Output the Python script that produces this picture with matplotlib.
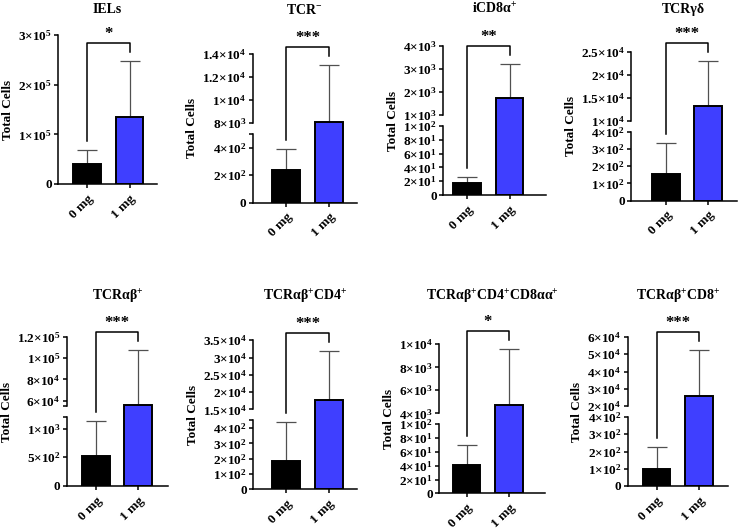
import numpy as np
import matplotlib
matplotlib.use('Agg')
import matplotlib.pyplot as plt
import matplotlib.transforms as mtransforms

plt.rcParams['font.family'] = ['Liberation Serif', 'DejaVu Serif']
plt.rcParams['font.weight'] = 'bold'
plt.rcParams['mathtext.fontset'] = 'custom'
plt.rcParams['mathtext.rm'] = 'Liberation Serif:bold'
plt.rcParams['mathtext.it'] = 'Liberation Serif:bold:italic'
plt.rcParams['mathtext.bf'] = 'Liberation Serif:bold'
plt.rcParams['mathtext.default'] = 'bf'

# ---- data ----
titles = ['IELs', 'TCR$^{-}$', 'iCD8α$^{+}$', 'TCRγδ',
          'TCRαβ$^{+}$', 'TCRαβ$^{+}$CD4$^{+}$',
          'TCRαβ$^{+}$CD4$^{+}$CD8αα$^{+}$', 'TCRαβ$^{+}$CD8$^{+}$']
groups = ['0 mg', '1 mg']
mean_0mg = [4.0e4, 2.4e2, 1.8e1, 1.55e2, 5.3e2, 1.87e2, 4.05e1, 9.6e1]
sd_0mg = [2.76e4, 1.5e2, 8.0, 1.79e2, 6.05e2, 2.53e2, 3.0e1, 1.31e2]
mean_1mg = [1.35e5, 8.1e3, 1.76e3, 1.31e4, 5.6e4, 1.78e4, 4.68e3, 2.57e4]
sd_1mg = [1.12e5, 4.9e3, 1.44e3, 9.8e3, 5.2e4, 1.4e4, 4.87e3, 2.7e4]
stars = ['*', '***', '**', '***', '***', '***', '*', '***']

# broken y axes: (top of lower part, bottom of upper part, top of upper part)
breaks = [None, (5e2, 8e3, 1.4e4), (1e2, 1e3, 4e3), (4e2, 1e4, 2.5e4),
          (1.2e3, 5.5e4, 1.2e5), (4.5e2, 1.5e4, 3.5e4), (1e2, 4e3, 1e4),
          (4e2, 2e4, 6e4)]
ymax_plain = 3e5
lower_ticks = [[0, 1e5, 2e5, 3e5], [0, 2e2, 4e2], [0, 2e1, 4e1, 6e1, 8e1, 1e2],
               [0, 1e2, 2e2, 3e2, 4e2], [0, 5e2, 1e3], [0, 1e2, 2e2, 3e2, 4e2],
               [0, 2e1, 4e1, 6e1, 8e1, 1e2], [0, 1e2, 2e2, 3e2, 4e2]]
upper_ticks = [[], [8e3, 1e4, 1.2e4, 1.4e4], [1e3, 2e3, 3e3, 4e3],
               [1e4, 1.5e4, 2e4, 2.5e4], [6e4, 8e4, 1e5, 1.2e5],
               [1.5e4, 2e4, 2.5e4, 3e4, 3.5e4], [4e3, 6e3, 8e3, 1e4],
               [2e4, 3e4, 4e4, 5e4, 6e4]]

# ---- layout (pixels on a 740x530 canvas) ----
W, H = 740, 530
# spine x, right end of x axis, y of zero, centre of first bar
frames = [(58.3, 157, 184, 87), (252.7, 356.7, 202.7, 286.3),
          (443.3, 545.7, 195, 467), (631, 736.7, 200.7, 665.8),
          (66.7, 168.3, 486, 95.8), (253.3, 356.7, 489.3, 286.2),
          (439, 545, 493.3, 466.5), (627.7, 727.7, 486, 656.5)]
title_y = [9.5, 9.5, 9.5, 9.5, 297, 297, 297, 297]
spacing = 42.5
h_lo, h_gap, h_hi = 69, 11, 69
LW = 1.1
blue = '#3f3fff'


def make_scale(brk):
    if brk is None:
        k = (h_lo + h_gap + h_hi) / ymax_plain
        return (lambda v: np.asarray(v, float) * k,
                lambda p: np.asarray(p, float) / k)
    lo, hb, ht = brk

    def fwd(v):
        v = np.asarray(v, float)
        return np.where(v <= lo, v / lo * h_lo,
                        np.where(v < hb, h_lo + (v - lo) / (hb - lo) * h_gap,
                                 h_lo + h_gap + (v - hb) / (ht - hb) * h_hi))

    def inv(p):
        p = np.asarray(p, float)
        return np.where(p <= h_lo, p / h_lo * lo,
                        np.where(p < h_lo + h_gap, lo + (p - h_lo) / h_gap * (hb - lo),
                                 hb + (p - h_lo - h_gap) / h_hi * (ht - hb)))
    return fwd, inv


def fmt(v):
    if v == 0:
        return '0'
    e = int(np.floor(np.log10(v) + 1e-9))
    m = v / 10 ** e
    return f'{m:g}×10$^{{{e}}}$'


fig = plt.figure(figsize=(W / 100, H / 100), dpi=100)

for i in range(8):
    x0, x1, zy, c0 = frames[i]
    total = h_lo + h_gap + h_hi
    ax = fig.add_axes([x0 / W, (H - zy) / H, (x1 - x0) / W, total / H])
    fwd, inv = make_scale(breaks[i])
    ax.set_yscale('function', functions=(fwd, inv))
    top = ymax_plain if breaks[i] is None else breaks[i][2]
    ax.set_ylim(0, top)
    ax.set_xlim((x0 - c0) / spacing, (x1 - c0) / spacing)

    xs = [0, 1]
    means = [mean_0mg[i], mean_1mg[i]]
    sds = [sd_0mg[i], sd_1mg[i]]
    ax.errorbar(xs, means, yerr=[[0, 0], sds], fmt='none', ecolor='#505050',
                elinewidth=0.9, capsize=7, capthick=0.9, zorder=1)
    ax.bar(xs, means, width=0.65, color=['black', blue], edgecolor='black',
           linewidth=1.4, zorder=2)

    # ticks
    ticks = list(lower_ticks[i]) + list(upper_ticks[i])
    labels = [fmt(t) for t in ticks]
    if breaks[i] is not None:
        for t in (breaks[i][0], breaks[i][1]):
            if t not in ticks:
                ticks.append(t)
                labels.append('')
    ax.set_yticks(ticks)
    ax.set_yticklabels(labels, fontsize=9.5, fontweight='bold')
    ax.set_xticks(xs)
    ax.set_xticklabels(groups, rotation=45, ha='right', rotation_mode='anchor',
                       fontsize=9.5, fontweight='bold')
    ax.tick_params(axis='both', length=3, width=LW, pad=1.5)
    ax.tick_params(axis='x', pad=3)

    for s in ('top', 'right'):
        ax.spines[s].set_visible(False)
    ax.spines['bottom'].set_linewidth(LW)
    ax.spines['left'].set_linewidth(LW)
    if breaks[i] is not None:
        ax.spines['left'].set_visible(False)
        tr = mtransforms.blended_transform_factory(ax.transAxes, ax.transData)
        lo, hb, ht = breaks[i]
        ax.plot([0, 0], [0, lo], transform=tr, color='black', lw=LW,
                clip_on=False, solid_capstyle='projecting')
        ax.plot([0, 0], [hb, ht], transform=tr, color='black', lw=LW,
                clip_on=False, solid_capstyle='projecting')

    ax.set_ylabel('Total Cells', fontsize=9.5, fontweight='bold', labelpad=3)

    # significance bracket, placed above the error bars
    p_top0 = float(fwd(means[0] + sds[0]))
    p_top1 = float(fwd(means[1] + sds[1]))
    p_br = p_top1 + 18
    ax.plot([0, 0, 1, 1],
            [float(inv(p_top0 + 9)), float(inv(p_br)), float(inv(p_br)), float(inv(p_top1 + 9))],
            color='black', lw=LW, clip_on=False)
    ax.text(0.5, float(inv(p_br + 1)), stars[i], ha='center', va='bottom',
            fontsize=12, fontweight='bold', clip_on=False)

    fig.text((x0 + x1) / 2 / W, 1 - title_y[i] / H, titles[i], ha='center',
             va='center', fontsize=10, fontweight='bold')

fig.savefig('out.png', dpi=100)
